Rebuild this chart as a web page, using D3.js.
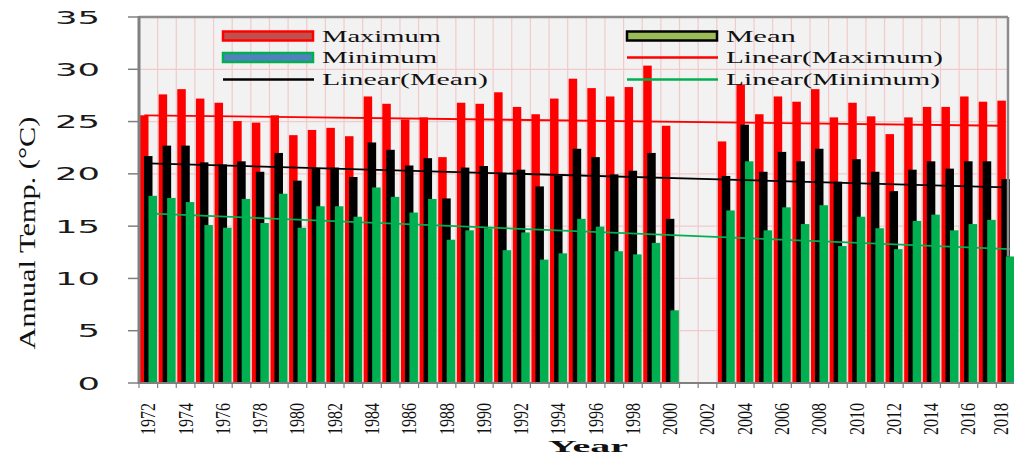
<!DOCTYPE html>
<html><head><meta charset="utf-8">
<script src="https://cdn.jsdelivr.net/npm/d3@7"></script>
<style>html,body{margin:0;padding:0;background:#fff;overflow:hidden;} svg{display:block;}</style>
</head><body>
<svg id="c" width="1014" height="461"></svg>
<script>
const years = [1972,1973,1974,1975,1976,1977,1978,1979,1980,1981,1982,1983,1984,1985,1986,1987,1988,1989,1990,1991,1992,1993,1994,1995,1996,1997,1998,1999,2000,2001,2002,2003,2004,2005,2006,2007,2008,2009,2010,2011,2012,2013,2014,2015,2016,2017,2018];
const maxT = [25.6,27.6,28.1,27.2,26.8,25.05,24.9,25.6,23.7,24.2,24.4,23.6,27.4,26.7,25.2,25.4,
  21.6,26.8,26.7,27.8,26.4,25.7,27.2,29.1,28.2,27.4,28.3,30.35,24.6,
  null,null,
  23.1,28.55,25.7,27.4,26.9,28.1,25.4,26.8,25.5,23.8,25.4,26.4,26.4,27.4,26.9,27.0];
const meanT = [21.7,22.7,22.7,21.1,20.9,21.2,20.2,22.0,19.35,20.5,20.6,19.7,23.0,22.3,20.8,21.5,
  17.65,20.6,20.75,20.1,20.4,18.8,19.8,22.4,21.6,19.95,20.3,22.0,15.7,
  null,null,
  19.8,24.7,20.2,22.1,21.2,22.4,19.25,21.4,20.2,18.35,20.4,21.2,20.5,21.2,21.2,19.5];
const minT = [17.9,17.7,17.3,15.1,14.85,17.6,15.3,18.1,14.85,16.9,16.9,15.9,18.7,17.8,16.3,17.6,
  13.7,14.6,14.8,12.7,14.4,11.8,12.4,15.7,14.95,12.6,12.3,13.4,6.95,
  null,null,
  16.5,21.2,14.6,16.8,15.2,17.0,13.1,15.9,14.8,12.8,15.5,16.1,14.6,15.2,15.6,12.1];
// trend line endpoints (1972, 2018)
const trendYears = [1972, 2018];
const trendMax = [25.6, 24.6];
const trendMean = [21.0, 18.7];
const trendMin = [16.2, 12.8];
const yTicks = [0,5,10,15,20,25,30,35];
const xLabels = years.filter((d,i)=> i%2===0);

const svg = d3.select('#c');
const L = 139, R = 1015, T = 17, B = 383, borderR = 1008;
const x = d3.scaleBand().domain(years).range([L, R]).padding(0);
const y = d3.scaleLinear().domain([0,35]).range([B, T]);
const bw = x.bandwidth();

// plot background
svg.append('rect').attr('x',L).attr('y',T).attr('width',borderR-L).attr('height',B-T).attr('fill','#f2f2f2');
// grid
const grid = svg.append('g');
grid.selectAll('line.h').data(yTicks.filter(d=>d>0&&d<35)).join('line')
  .attr('x1',L).attr('x2',borderR).attr('y1',d=>y(d)).attr('y2',d=>y(d))
  .attr('stroke','#f2caca').attr('stroke-width',1.2);
grid.selectAll('line.v').data(years.slice(1)).join('line')
  .attr('x1',d=>x(d)).attr('x2',d=>x(d)).attr('y1',T).attr('y2',B)
  .attr('stroke','#f2caca').attr('stroke-width',1.2);

// bars
const series = [
  {vals:maxT, color:'#ff0000', off:1.0},
  {vals:meanT, color:'#000000', off:5.0},
  {vals:minT, color:'#00b050', off:9.5}
];
const barW = 8.5;
series.forEach(s=>{
  svg.append('g').selectAll('rect').data(years.map((yr,i)=>({yr, v:s.vals[i]})).filter(d=>d.v!=null))
    .join('rect')
    .attr('x',d=>x(d.yr)+s.off).attr('width',barW)
    .attr('y',d=>y(d.v)).attr('height',d=>B-y(d.v))
    .attr('fill',s.color);
});

// trend lines
const trends = [
  {vals:trendMax, color:'#ff0000', off:1.0},
  {vals:trendMean, color:'#000000', off:5.0},
  {vals:trendMin, color:'#00b050', off:9.5}
];
trends.forEach(t=>{
  const line = d3.line().x(d=>x(d[0])+t.off+barW/2).y(d=>y(d[1]));
  svg.append('path').datum(trendYears.map((yr,i)=>[yr,t.vals[i]]))
    .attr('d',line).attr('fill','none').attr('stroke',t.color).attr('stroke-width',1.8);
});

// border / axes
svg.append('line').attr('x1',L).attr('x2',borderR).attr('y1',T).attr('y2',T).attr('stroke','#8c8c8c').attr('stroke-width',2.5);
svg.append('line').attr('x1',borderR).attr('x2',borderR).attr('y1',T).attr('y2',y(minT[minT.length-1])).attr('stroke','#8c8c8c').attr('stroke-width',2.5);
svg.append('line').attr('x1',L).attr('x2',L).attr('y1',T-1).attr('y2',B+1).attr('stroke','#808080').attr('stroke-width',3);
svg.append('line').attr('x1',L).attr('x2',R).attr('y1',B).attr('y2',B).attr('stroke','#808080').attr('stroke-width',2);

// y ticks
const yg = svg.append('g');
yg.selectAll('line').data(yTicks).join('line')
  .attr('x1',128).attr('x2',L).attr('y1',d=>y(d)).attr('y2',d=>y(d))
  .attr('stroke','#808080').attr('stroke-width',1.5);
yg.selectAll('text').data(yTicks).join('text')
  .attr('x',100).attr('y',d=>y(d)).attr('text-anchor','end').attr('dominant-baseline','central')
  .attr('font-family','DejaVu Sans, sans-serif').attr('font-size',18).attr('fill','#1a1a1a')
  .attr('textLength',d=>String(d).length*22.5).attr('lengthAdjust','spacingAndGlyphs')
  .text(d=>d);

// x ticks
const xg = svg.append('g');
xg.selectAll('line').data(years.concat([null])).join('line')
  .attr('x1',(d,i)=>L+i*bw).attr('x2',(d,i)=>L+i*bw).attr('y1',B).attr('y2',B+5)
  .attr('stroke','#808080').attr('stroke-width',1.2);
xg.selectAll('text').data(xLabels).join('text')
  .attr('transform',d=>`translate(${Math.min(x(d)+bw/2, 1001)},403) rotate(-90)`)
  .attr('text-anchor','end').attr('dominant-baseline','central')
  .attr('font-family','Liberation Serif, serif').attr('font-size',20).attr('fill','#111')
  .attr('textLength',32).attr('lengthAdjust','spacingAndGlyphs')
  .text(d=>d);

// axis titles
svg.append('text').attr('x',588).attr('y',452).attr('text-anchor','middle')
  .attr('font-family','Liberation Serif, serif').attr('font-weight','bold').attr('font-size',17)
  .attr('textLength',80).attr('lengthAdjust','spacingAndGlyphs').attr('fill','#111').text('Year');
svg.append('text').attr('transform','translate(27,233) rotate(-90)').attr('text-anchor','middle')
  .attr('dominant-baseline','central')
  .attr('font-family','Liberation Serif, serif').attr('font-size',24)
  .attr('textLength',233).attr('lengthAdjust','spacingAndGlyphs').attr('fill','#111').text('Annual Temp. (°C)');

// legend
const lg = svg.append('g').attr('font-family','Liberation Serif, serif').attr('font-size',16).attr('fill','#111');
const legendItems = [
  {label:'Maximum', type:'rect', fill:'#c0504d', stroke:'#ff0000', x:223, y:36, len:119},
  {label:'Mean', type:'rect', fill:'#9bbb59', stroke:'#000000', x:627, y:36, len:70},
  {label:'Minimum', type:'rect', fill:'#4f81bd', stroke:'#00b050', x:223, y:57.5, len:115},
  {label:'Linear(Maximum)', type:'line', stroke:'#ff0000', x:627, y:57.5, len:217},
  {label:'Linear(Mean)', type:'line', stroke:'#000000', x:223, y:79.5, len:166},
  {label:'Linear(Minimum)', type:'line', stroke:'#00b050', x:627, y:79.5, len:214}
];
legendItems.forEach(it=>{
  if(it.type==='rect'){
    lg.append('rect').attr('x',it.x).attr('y',it.y-4.5).attr('width',90).attr('height',9)
      .attr('fill',it.fill).attr('stroke',it.stroke).attr('stroke-width',2.5);
  } else {
    lg.append('line').attr('x1',it.x).attr('x2',it.x+91).attr('y1',it.y).attr('y2',it.y)
      .attr('stroke',it.stroke).attr('stroke-width',2.5);
  }
  lg.append('text').attr('x',it.x+99).attr('y',it.y+5.5)
    .attr('textLength',it.len).attr('lengthAdjust','spacingAndGlyphs').text(it.label);
});
</script>
</body></html>
